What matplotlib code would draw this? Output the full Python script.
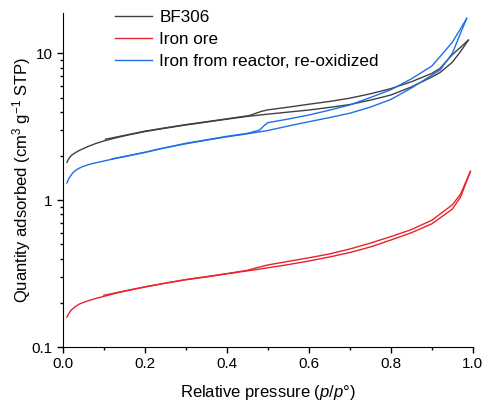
import matplotlib
matplotlib.use('Agg')
import matplotlib.pyplot as plt
from matplotlib.ticker import LogLocator, NullFormatter, MultipleLocator
import numpy as np

plt.rcParams['font.family'] = ['Liberation Sans', 'DejaVu Sans']
plt.rcParams['mathtext.fontset'] = 'custom'
plt.rcParams['mathtext.rm'] = 'Liberation Sans'
plt.rcParams['mathtext.it'] = 'Liberation Sans:italic'

# BF306 isotherm (adsorption / desorption branch)
bf_ads_p = [0.01, 0.013, 0.017, 0.022, 0.03, 0.04, 0.06, 0.08, 0.1, 0.13, 0.16, 0.2, 0.25, 0.3,
            0.35, 0.4, 0.45, 0.5, 0.55, 0.6, 0.65, 0.7, 0.75, 0.8, 0.85, 0.9, 0.92, 0.95, 0.97,
            0.989]
bf_ads_v = [1.81, 1.88, 1.96, 2.03, 2.1, 2.18, 2.31, 2.43, 2.53, 2.66, 2.78, 2.93, 3.09, 3.25,
            3.40, 3.56, 3.72, 3.85, 3.98, 4.11, 4.28, 4.48, 4.8, 5.2, 5.9, 6.9, 7.4, 8.7, 10.3,
            12.3]
bf_des_p = [0.989, 0.97, 0.95, 0.92, 0.9, 0.85, 0.8, 0.75, 0.7, 0.65, 0.6, 0.55, 0.5, 0.485,
            0.47, 0.455, 0.4, 0.35, 0.3, 0.25, 0.2, 0.15, 0.104]
bf_des_v = [12.3, 11.0, 9.8, 7.9, 7.3, 6.4, 5.75, 5.3, 4.95, 4.7, 4.5, 4.3, 4.12, 4.03,
            3.9, 3.77, 3.58, 3.42, 3.27, 3.11, 2.95, 2.76, 2.6]

# Iron ore isotherm
ore_ads_p = [0.01, 0.013, 0.017, 0.021, 0.03, 0.04, 0.058, 0.08, 0.1, 0.115, 0.15, 0.2, 0.25,
             0.3, 0.35, 0.4, 0.45, 0.5, 0.55, 0.6, 0.65, 0.7, 0.75, 0.8, 0.85, 0.9, 0.95, 0.97,
             0.994]
ore_ads_v = [0.160, 0.166, 0.173, 0.179, 0.188, 0.196, 0.205, 0.214, 0.221, 0.227, 0.240, 0.256,
             0.272, 0.287, 0.300, 0.315, 0.330, 0.346, 0.364, 0.385, 0.410, 0.44, 0.48, 0.535,
             0.6, 0.69, 0.87, 1.05, 1.57]
ore_des_p = [0.994, 0.97, 0.95, 0.9, 0.85, 0.8, 0.75, 0.7, 0.65, 0.6, 0.55, 0.5, 0.47, 0.45,
             0.4, 0.3, 0.2, 0.1]
ore_des_v = [1.57, 1.1, 0.93, 0.73, 0.63, 0.565, 0.51, 0.465, 0.43, 0.405, 0.383, 0.362, 0.345,
             0.333, 0.316, 0.288, 0.257, 0.225]

# Iron from reactor, re-oxidized
reox_ads_p = [0.01, 0.013, 0.016, 0.02, 0.025, 0.033, 0.04, 0.05, 0.07, 0.09, 0.12, 0.17, 0.2,
              0.24, 0.3, 0.35, 0.4, 0.45, 0.5, 0.55, 0.6, 0.65, 0.7, 0.75, 0.8, 0.85, 0.9, 0.92,
              0.95, 0.968, 0.985]
reox_ads_v = [1.31, 1.37, 1.42, 1.48, 1.54, 1.61, 1.65, 1.70, 1.77, 1.82, 1.90, 2.03, 2.11,
              2.25, 2.42, 2.56, 2.70, 2.83, 2.98, 3.2, 3.42, 3.65, 3.91, 4.3, 4.85, 5.8, 7.1,
              7.7, 10.0, 13.3, 17.3]
reox_des_p = [0.985, 0.968, 0.95, 0.92, 0.9, 0.85, 0.8, 0.75, 0.7, 0.65, 0.6, 0.55, 0.5, 0.49,
              0.48, 0.45, 0.4, 0.3, 0.2, 0.12]
reox_des_v = [17.3, 14.4, 11.9, 9.5, 8.2, 6.7, 5.65, 5.0, 4.45, 4.1, 3.80, 3.57, 3.37, 3.2,
              3.0, 2.85, 2.72, 2.44, 2.12, 1.91]

c_bf = '#404040'
c_ore = '#e8232b'
c_reox = '#1f6fe6'

fig = plt.figure(figsize=(4.87, 4.08), dpi=100)
ax = fig.add_axes([0.129, 0.1495, 0.842, 0.8185])

ax.plot(bf_ads_p, bf_ads_v, color=c_bf, lw=1.0, label='BF306')
ax.plot(bf_des_p, bf_des_v, color=c_bf, lw=1.0)
ax.plot(ore_ads_p, ore_ads_v, color=c_ore, lw=1.0, label='Iron ore')
ax.plot(ore_des_p, ore_des_v, color=c_ore, lw=1.0)
ax.plot(reox_ads_p, reox_ads_v, color=c_reox, lw=1.0, label='Iron from reactor, re-oxidized')
ax.plot(reox_des_p, reox_des_v, color=c_reox, lw=1.0)

ax.set_yscale('log')
ax.set_xlim(0.0, 1.0)
ax.set_ylim(0.1, 18.8)
ax.set_xticks([0.0, 0.2, 0.4, 0.6, 0.8, 1.0])
ax.set_xticklabels(['0.0', '0.2', '0.4', '0.6', '0.8', '1.0'])
ax.xaxis.set_minor_locator(MultipleLocator(0.1))
ax.set_yticks([0.1, 1, 10])
ax.set_yticklabels(['0.1', '1', '10'])
ax.yaxis.set_minor_locator(LogLocator(base=10, subs=np.arange(2, 10)))
ax.yaxis.set_minor_formatter(NullFormatter())

ax.spines['top'].set_visible(False)
ax.spines['right'].set_visible(False)
ax.tick_params(which='major', direction='out', length=4, width=1, labelsize=11)
ax.tick_params(which='minor', direction='out', length=2.5, width=1)

ax.set_xlabel(r'Relative pressure ($\mathit{p}$/$\mathit{p}$°)', fontsize=12, labelpad=8)
ax.set_ylabel(r'Quantity adsorbed (cm$^3$ g$^{-1}$ STP)', fontsize=12, labelpad=-1)

ax.legend(loc='upper left', bbox_to_anchor=(0.11, 1.03), frameon=False, fontsize=12.3,
          handlelength=2.2, handletextpad=0.4, labelspacing=0.42, borderaxespad=0)

fig.savefig('out.png', dpi=100)
